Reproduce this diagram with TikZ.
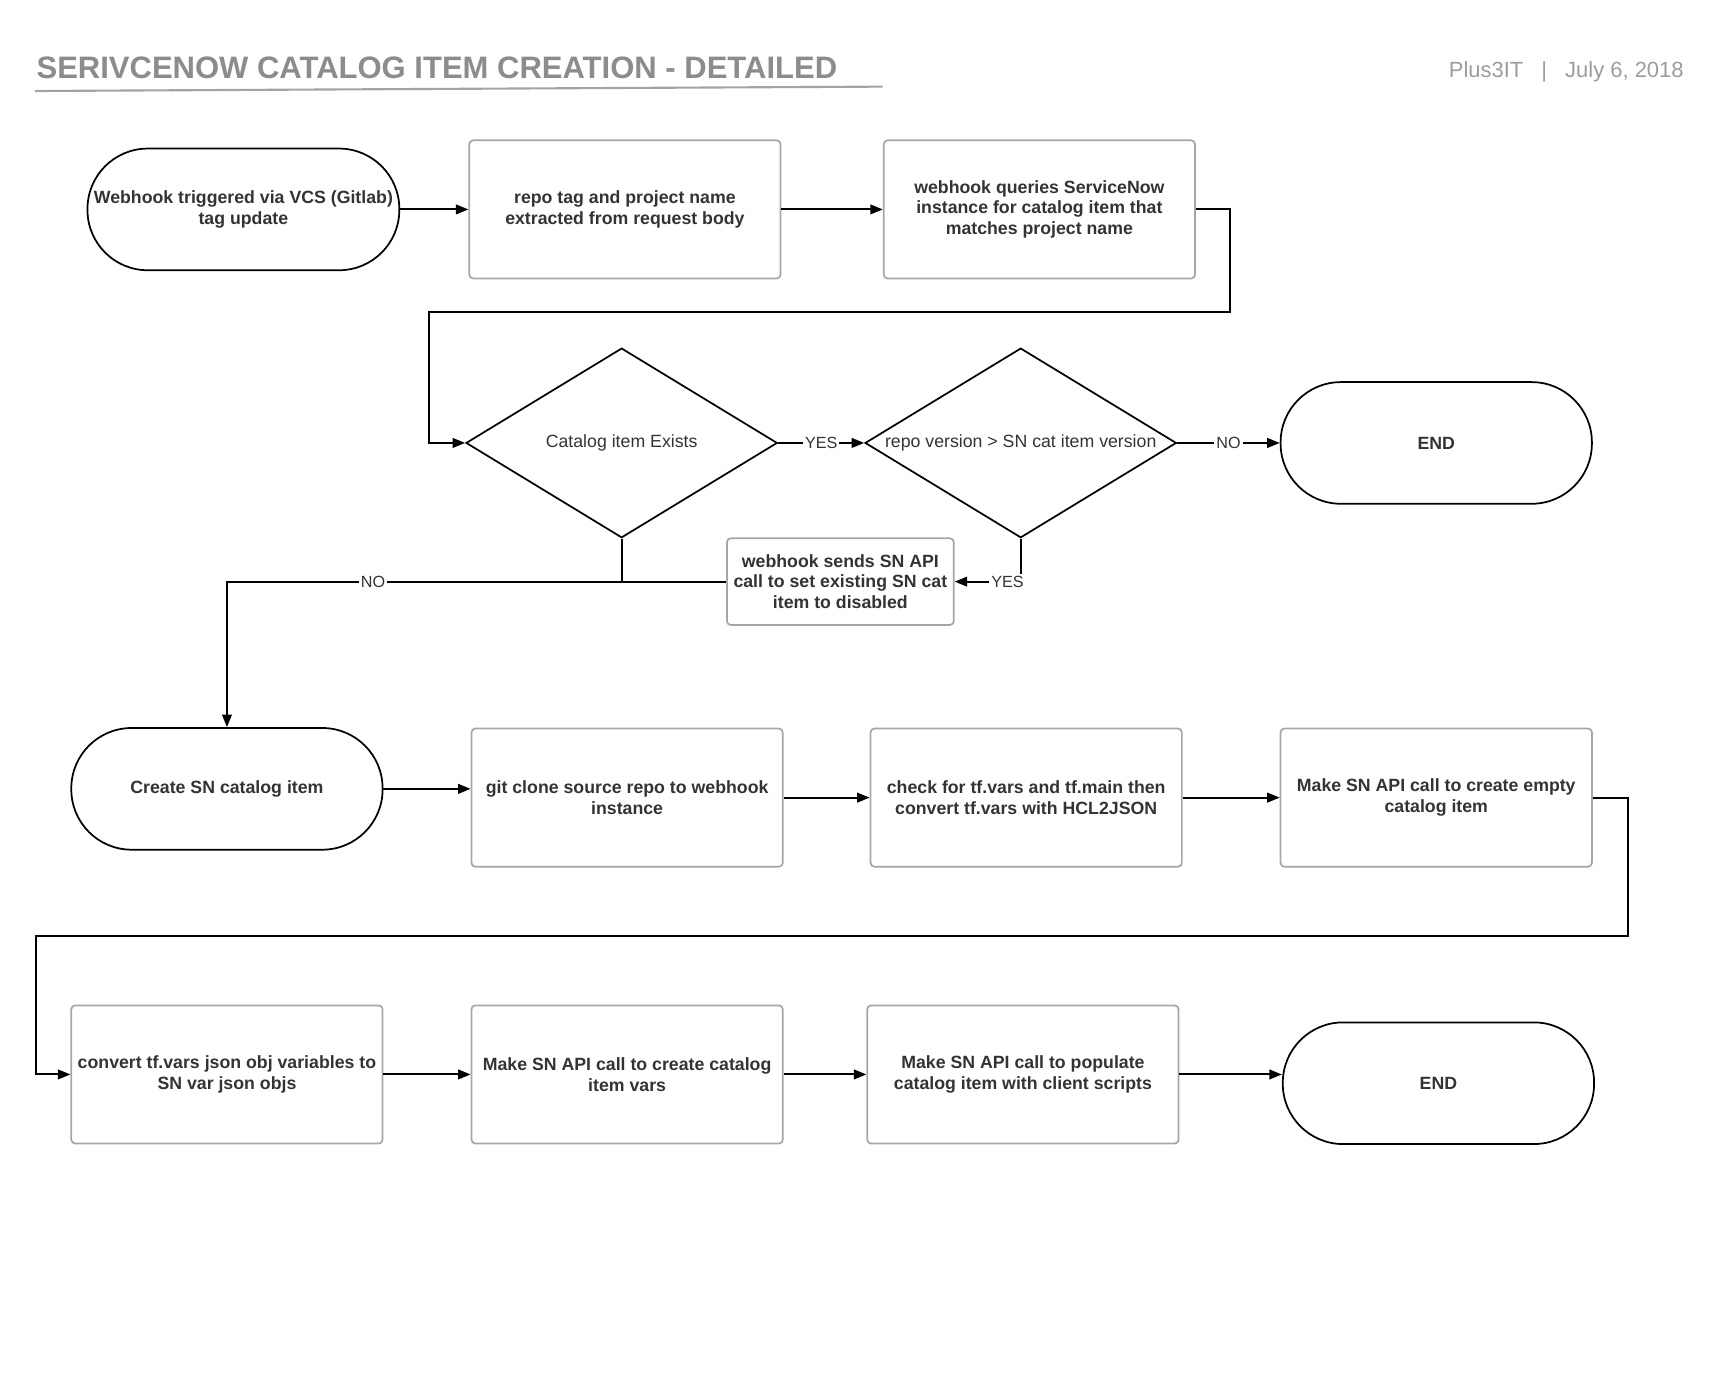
\documentclass[tikz,border=0pt]{standalone}
\usepackage{fontspec}
\setmainfont{Liberation Sans}
\usetikzlibrary{shapes.geometric,arrows.meta}
\definecolor{txtgray}{HTML}{333333}
\definecolor{titlegray}{HTML}{8C8C8C}
\definecolor{headgray}{HTML}{9C9C9C}
\definecolor{boxgray}{HTML}{A6A6A6}

\begin{document}
\begin{tikzpicture}[x=0.02cm,y=-0.02cm,
	  every node/.style={text=txtgray},
	  term/.style={draw=black,line width=0.9pt,rounded corners=1.1cm,minimum width=5.68cm,minimum height=2.22cm,align=center,font=\bfseries\fontsize{9.2}{10.8}\selectfont},
	  proc/.style={draw=boxgray,line width=0.9pt,rounded corners=2pt,minimum width=5.68cm,minimum height=2.52cm,align=center,font=\bfseries\fontsize{9.2}{10.8}\selectfont},
	  decide/.style={draw=black,line width=0.9pt,diamond,aspect=1.64,inner sep=0pt,minimum width=5.68cm,minimum height=3.46cm,font=\fontsize{9.2}{10.8}\selectfont},
	  lbl/.style={fill=white,inner sep=1pt,font=\fontsize{8.4}{10}\selectfont},
	  line/.style={draw=black,line width=1.05pt},
	  arr/.style={line,-{Triangle[length=6.5pt,width=5pt]}}]
	  \useasboundingbox (0,0) rectangle (1567,1258);   % page size

	  % header
	  \node[anchor=base west,text=titlegray,inner sep=0pt,font=\bfseries\fontsize{16.1}{19}\selectfont] (title) at (33,72) {SERIVCENOW CATALOG ITEM CREATION - DETAILED};
	  \draw[titlegray!80,line width=1.1pt] (32,83) -- (805,79);
	  \node[anchor=base east,text=headgray,inner sep=0pt,font=\fontsize{11.4}{13.7}\selectfont] (stamp) at (1536,71) {Plus3IT\hspace{0.33cm}|\hspace{0.33cm}July 6, 2018};

	  % first row
	  \node[term] (start) at (222,191) {Webhook triggered via VCS (Gitlab)\\tag update};
	  \node[proc] (extract) at (570,191) {repo tag and project name\\extracted from request body};
	  \node[proc] (query) at (948,191) {webhook queries ServiceNow\\instance for catalog item that\\matches project name};

	  % decisions
	  \node[decide] (exists) at (567,404) {Catalog item Exists};
	  \node[decide] (newer) at (931,404) {repo version > SN cat item version};
	  \node[term] (end1) at (1310,404) {END};
	  \node[proc,minimum width=4.14cm,minimum height=1.58cm] (disable) at (766.5,530.5) {webhook sends SN API\\call to set existing SN cat\\item to disabled};

	  % third row
	  \node[term] (create) at (207,719.5) {Create SN catalog item};
	  \node[proc] (clone) at (572,727.5) {git clone source repo to webhook\\instance};
	  \node[proc] (convert) at (936,727.5) {check for tf.vars and tf.main then\\convert tf.vars with HCL2JSON};
	  \node[proc] (empty) at (1310,727.5) {Make SN API call to create empty\\catalog item};

	  % last row
	  \node[proc] (jsonvars) at (207,980) {convert tf.vars json obj variables to\\SN var json objs};
	  \node[proc] (itemvars) at (572,980) {Make SN API call to create catalog\\item vars};
	  \node[proc] (scripts) at (933,980) {Make SN API call to populate\\catalog item with client scripts};
	  \node[term] (end2) at (1312,988) {END};

	  % connectors
	  \draw[arr] (start) -- (extract);
	  \draw[arr] (extract) -- (query);
	  \draw[arr] (query.east) -- (1122,191) -- (1122,285) -- (391,285) |- (exists.west);
	  \draw[arr] (exists) -- node[lbl] {YES} (newer);
	  \draw[arr] (newer) -- node[lbl] {NO} (end1);
	  \draw[arr] (newer.south) |- node[lbl,pos=0.6] {YES} (disable.east);
	  \draw[arr] (exists.south) -- (exists.south |- disable.west) -- node[lbl,pos=0.63] {NO} (create.north |- disable.west) -- (create.north);
	  \draw[line] (disable.west) -- (exists.south |- disable.west);
	  \draw[arr] (create.east) -- (create.east -| clone.west);
	  \draw[arr] (clone) -- (convert);
	  \draw[arr] (convert) -- (empty);
	  \draw[arr] (empty.east) -- (1485,727.5) -- (1485,854) -- (33,854) |- (jsonvars.west);
	  \draw[arr] (jsonvars) -- (itemvars);
	  \draw[arr] (itemvars) -- (scripts);
	  \draw[arr] (scripts.east) -- (scripts.east -| end2.west);
\end{tikzpicture}
\end{document}
